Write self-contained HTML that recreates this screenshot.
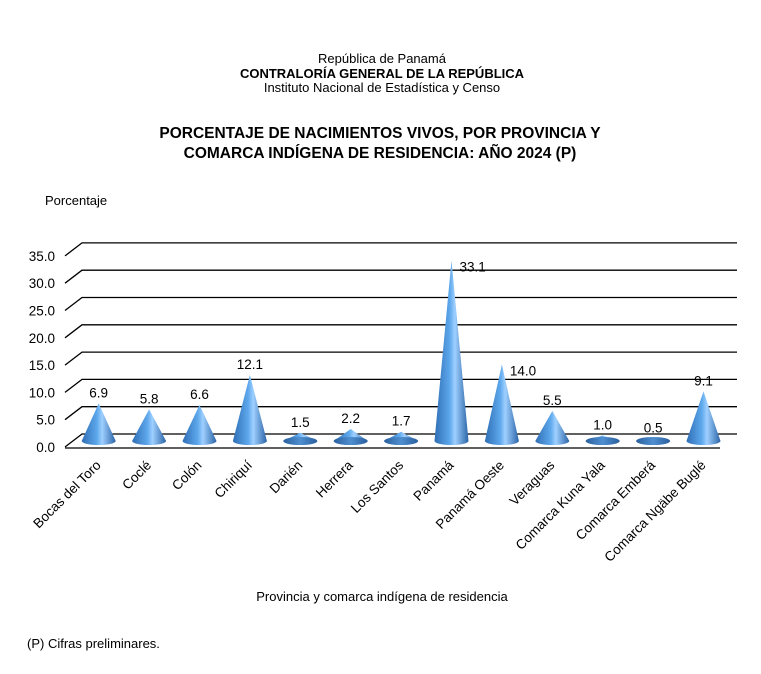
<!DOCTYPE html>
<html><head><meta charset="utf-8"><style>
body{margin:0;background:#fff;}
svg text{font-family:"Liberation Sans",Arial,sans-serif;fill:#000;}
</style></head><body>
<svg width="761" height="669" viewBox="0 0 761 669" xmlns="http://www.w3.org/2000/svg">
<defs>
<linearGradient id="cg" x1="0" x2="1" y1="0" y2="0">
<stop offset="0" stop-color="#2f6eb5"/>
<stop offset="0.45" stop-color="#5ea8ec"/>
<stop offset="0.6" stop-color="#9fd0ff"/>
<stop offset="1" stop-color="#2b64a8"/>
</linearGradient>
<linearGradient id="eg" x1="0" x2="1">
<stop offset="0" stop-color="#2a5f9e"/><stop offset="0.5" stop-color="#4f8fd0"/><stop offset="1" stop-color="#2a5f9e"/>
</linearGradient>
</defs>
<text x="382" y="63" font-size="13" text-anchor="middle">República de Panamá</text>
<text x="382" y="78" font-size="13" font-weight="bold" text-anchor="middle">CONTRALORÍA GENERAL DE LA REPÚBLICA</text>
<text x="382" y="92" font-size="13" text-anchor="middle">Instituto Nacional de Estadística y Censo</text>
<text x="380" y="138" font-size="15.5" font-weight="bold" text-anchor="middle">PORCENTAJE DE NACIMIENTOS VIVOS, POR PROVINCIA Y</text>
<text x="380" y="158" font-size="15.5" font-weight="bold" text-anchor="middle">COMARCA INDÍGENA DE RESIDENCIA: AÑO 2024 (P)</text>
<text x="45" y="205" font-size="13">Porcentaje</text>
<g stroke="#000" stroke-width="1.3" fill="none" id="grid"></g>
<g id="cones"></g>
<g id="labels" font-size="13.5"></g>
<text x="382" y="601" font-size="13" text-anchor="middle">Provincia y comarca indígena de residencia</text>
<text x="27" y="648" font-size="13">(P) Cifras preliminares.</text>
<script>
var ns="http://www.w3.org/2000/svg";
function el(p,t,a,txt){var e=document.createElementNS(ns,t);for(var k in a)e.setAttribute(k,a[k]);if(txt!==undefined)e.textContent=txt;document.getElementById(p).appendChild(e);return e;}
var s=5.46;
for(var i=0;i<=7;i++){var v=i*5,yf=447-v*s,yb=yf-13;
el("grid","polyline",{points:"65,"+yf+" 82,"+yb+" 737,"+yb});
el("labels","text",{x:55,y:yf+5,"text-anchor":"end"},v.toFixed(1));}
el("grid","line",{x1:65,y1:448,x2:720,y2:448});
var names=["Bocas del Toro","Coclé","Colón","Chiriquí","Darién","Herrera","Los Santos","Panamá","Panamá Oeste","Veraguas","Comarca Kuna Yala","Comarca Emberá","Comarca Ngäbe Buglé"];
var vals=[6.9,5.8,6.6,12.1,1.5,2.2,1.7,33.1,14.0,5.5,1.0,0.5,9.1];
for(var i=0;i<13;i++){var cx=73.5+50.4*(i+0.5),by=441,ty=by-vals[i]*s,r=17;
el("cones","path",{d:"M"+(cx-r)+","+by+" L"+cx+","+ty+" L"+(cx+r)+","+by+" A"+r+",4 0 0 1 "+(cx-r)+","+by+"Z",fill:"url(#cg)"});
if(vals[i]<3) el("cones","ellipse",{cx:cx,cy:by,rx:r,ry:4,fill:"url(#eg)"});
var lx=cx,ly=ty-6,an="middle";
if(i==7||i==8){lx=cx+8;ly=ty+11;an="start";}
el("labels","text",{x:lx,y:ly,"text-anchor":an},vals[i].toFixed(1));
var ex=cx+3,ey=466;
el("labels","text",{x:ex,y:ey,"text-anchor":"end",transform:"rotate(-45 "+ex+" "+ey+")"},names[i]);}
</script>
</svg>
</body></html>
